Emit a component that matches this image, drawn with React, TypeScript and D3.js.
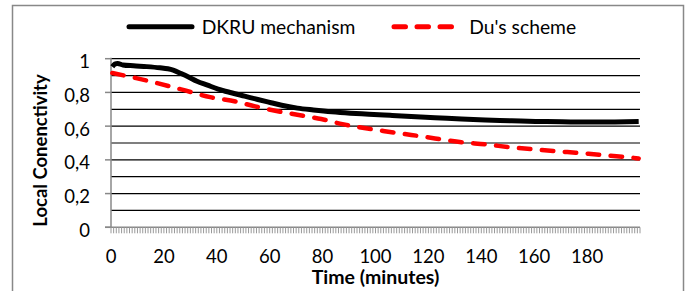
import React from "react";
import * as d3 from "d3";

const dkruTimes = [0, 1, 2, 4, 8, 13, 18, 21, 23, 26, 29, 32, 36, 40, 45, 50, 55, 60, 64, 70, 76, 83, 90, 97, 105, 113, 122, 132, 141, 151, 160, 170, 180, 190, 199];
const dkruValues = [0.952, 0.968, 0.972, 0.963, 0.958, 0.953, 0.946, 0.94, 0.932, 0.912, 0.89, 0.866, 0.843, 0.82, 0.798, 0.778, 0.758, 0.739, 0.724, 0.707, 0.696, 0.685, 0.677, 0.671, 0.664, 0.657, 0.65, 0.642, 0.636, 0.632, 0.628, 0.626, 0.624, 0.625, 0.628];

const duTimes = [0, 9, 17, 26, 37, 47, 54, 63, 71, 79, 87, 94, 103, 113, 122, 132, 141, 151, 162, 172, 180, 188, 198, 199];
const duValues = [0.915, 0.885, 0.855, 0.818, 0.772, 0.745, 0.717, 0.687, 0.665, 0.642, 0.612, 0.592, 0.57, 0.548, 0.527, 0.505, 0.492, 0.474, 0.459, 0.446, 0.436, 0.425, 0.41, 0.408];

const xTickLabels = [0, 20, 40, 60, 80, 100, 120, 140, 160, 180];
const yTickLabels = ["0", "0,2", "0,4", "0,6", "0,8", "1"];
const yTickValues = [0, 0.2, 0.4, 0.6, 0.8, 1];
const yGridValues = [0.1, 0.2, 0.3, 0.4, 0.5, 0.6, 0.7, 0.8, 0.9, 1.0];
const categoryCount = 200;

const seriesNames = ["DKRU mechanism", "Du's scheme"];

const FONT = "Lato, 'Open Sans', sans-serif";

export default function App() {
  const W = 690;
  const H = 291;
  const left = 111;
  const right = 640;
  const top = 58.7;
  const bottom = 227.3;

  const x = d3.scaleLinear().domain([-0.5, categoryCount - 0.5]).range([left, right]);
  const y = d3.scaleLinear().domain([0, 1]).range([bottom, top]);

  const line = d3
    .line<[number, number]>()
    .x((d) => x(d[0]))
    .y((d) => y(d[1]))
    .curve(d3.curveMonotoneX);

  const dkru: [number, number][] = dkruTimes.map((t, i) => [t, dkruValues[i]]);
  const du: [number, number][] = duTimes.map((t, i) => [t, duValues[i]]);

  const catTicks = d3.range(0, categoryCount + 1);

  return (
    <svg
      width={W}
      height={H}
      style={{ position: "absolute", left: 0, top: 0, background: "#fff" }}
      fontFamily={FONT}
    >
      <rect x={12.5} y={5.5} width={671} height={300} fill="#fff" stroke="#888" strokeWidth={1.5} />

      {yGridValues.map((v) => (
        <line key={v} x1={left} x2={right} y1={y(v)} y2={y(v)} stroke="#000" strokeWidth={1.2} />
      ))}

      {/* y axis */}
      <line x1={left} x2={left} y1={top - 1} y2={bottom} stroke="#888" strokeWidth={1.5} />
      {yTickValues.map((v) => (
        <line key={v} x1={left - 6} x2={left} y1={y(v)} y2={y(v)} stroke="#888" strokeWidth={1.5} />
      ))}
      {yTickValues.map((v, i) => (
        <text key={v} x={90} y={y(v) + 2.5} textAnchor="end" dominantBaseline="central" fontSize={18.5} fill="#000">
          {yTickLabels[i]}
        </text>
      ))}

      {/* x axis */}
      <line x1={left - 6} x2={right} y1={bottom} y2={bottom} stroke="#888" strokeWidth={1.5} />
      {catTicks.map((c) => (
        <line key={c} x1={x(c - 0.5)} x2={x(c - 0.5)} y1={bottom} y2={bottom + 6} stroke="#999" strokeWidth={1} />
      ))}
      {xTickLabels.map((v) => (
        <text key={v} x={x(v - 0.5)} y={255.5} textAnchor="middle" dominantBaseline="central" fontSize={18.5} fill="#000">
          {v}
        </text>
      ))}

      {/* series */}
      <path d={line(du) || ""} fill="none" stroke="#ff0000" strokeWidth={4.5} strokeDasharray="11.5 11.5" strokeLinecap="round" />
      <path d={line(dkru) || ""} fill="none" stroke="#000" strokeWidth={5} strokeLinejoin="round" />

      {/* axis titles */}
      <text x={375.5} y={276} textAnchor="middle" dominantBaseline="central" fontSize={19.5} fontWeight="bold" fill="#000">
        Time (minutes)
      </text>
      <text
        transform={`translate(40,150.5) rotate(-90)`}
        textAnchor="middle"
        dominantBaseline="central"
        fontSize={18.5}
        fontWeight="bold"
        fill="#000"
      >
        Local Conenctivity
      </text>

      {/* legend */}
      <line x1={129} x2={192} y1={26.7} y2={26.7} stroke="#000" strokeWidth={5} strokeLinecap="round" />
      <text x={201.7} y={26.7} dominantBaseline="central" fontSize={19.3} fill="#000">
        {seriesNames[0]}
      </text>
      <line x1={394} x2={453} y1={26.7} y2={26.7} stroke="#ff0000" strokeWidth={5} strokeDasharray="11.5 11.5" strokeLinecap="round" />
      <text x={469.3} y={26.7} dominantBaseline="central" fontSize={19.3} fill="#000">
        {seriesNames[1]}
      </text>
    </svg>
  );
}
